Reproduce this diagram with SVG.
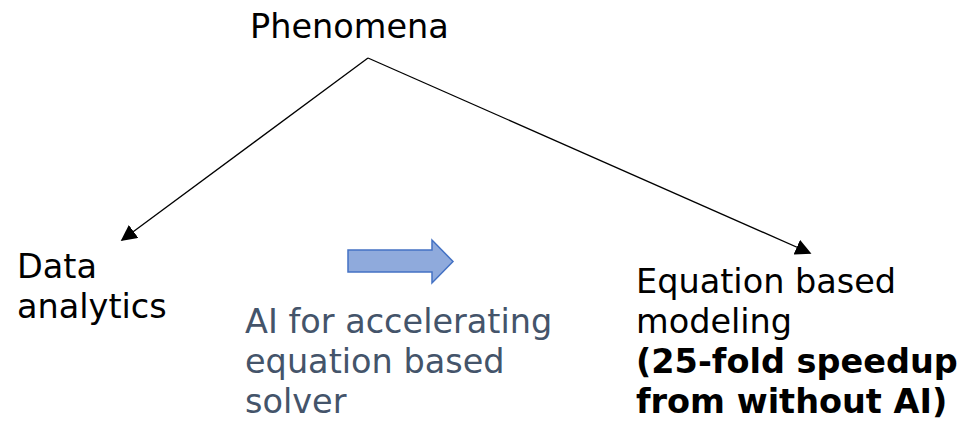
<svg xmlns="http://www.w3.org/2000/svg" width="958" height="424" viewBox="0 0 958 424">
<defs>
<style>
text{font-family:"DejaVu Sans","Noto Sans",sans-serif;font-size:33.5px;fill:#000}
.ai{fill:#44546a}
.b{font-weight:bold}
.conn{stroke:#000;stroke-width:1.3;fill:none}
</style>
<marker id="ah" viewBox="0 0 10 10" refX="9" refY="5" markerWidth="16" markerHeight="16" markerUnits="userSpaceOnUse" orient="auto">
<path d="M0,0 L10,5 L0,10 z" fill="#000"/>
</marker>
</defs>
<rect width="958" height="424" fill="#fff"/>
<g id="connectors">
<path class="conn" d="M368,58 L122,240" marker-end="url(#ah)"/>
<path class="conn" d="M368,58 L810,253" marker-end="url(#ah)"/>
</g>
<g id="phenomena"><text x="250" y="38">Phenomena</text></g>
<g id="data-analytics"><text x="17" y="278">Data</text><text x="17" y="318">analytics</text></g>
<g id="ai-arrow"><path d="M348,250 H432 V240 L453,261.5 L432,283 V272 H348 Z" fill="#8faadc" stroke="#4472c4" stroke-width="1.5"/></g>
<g id="ai-solver"><text class="ai" x="245" y="333">AI for accelerating</text><text class="ai" x="245" y="373">equation based</text><text class="ai" x="245" y="413">solver</text></g>
<g id="equation-modeling"><text x="636" y="293">Equation based</text><text x="636" y="333">modeling</text><text class="b" x="636" y="373">(25-fold speedup</text><text class="b" x="636" y="413">from without AI)</text></g>
</svg>
